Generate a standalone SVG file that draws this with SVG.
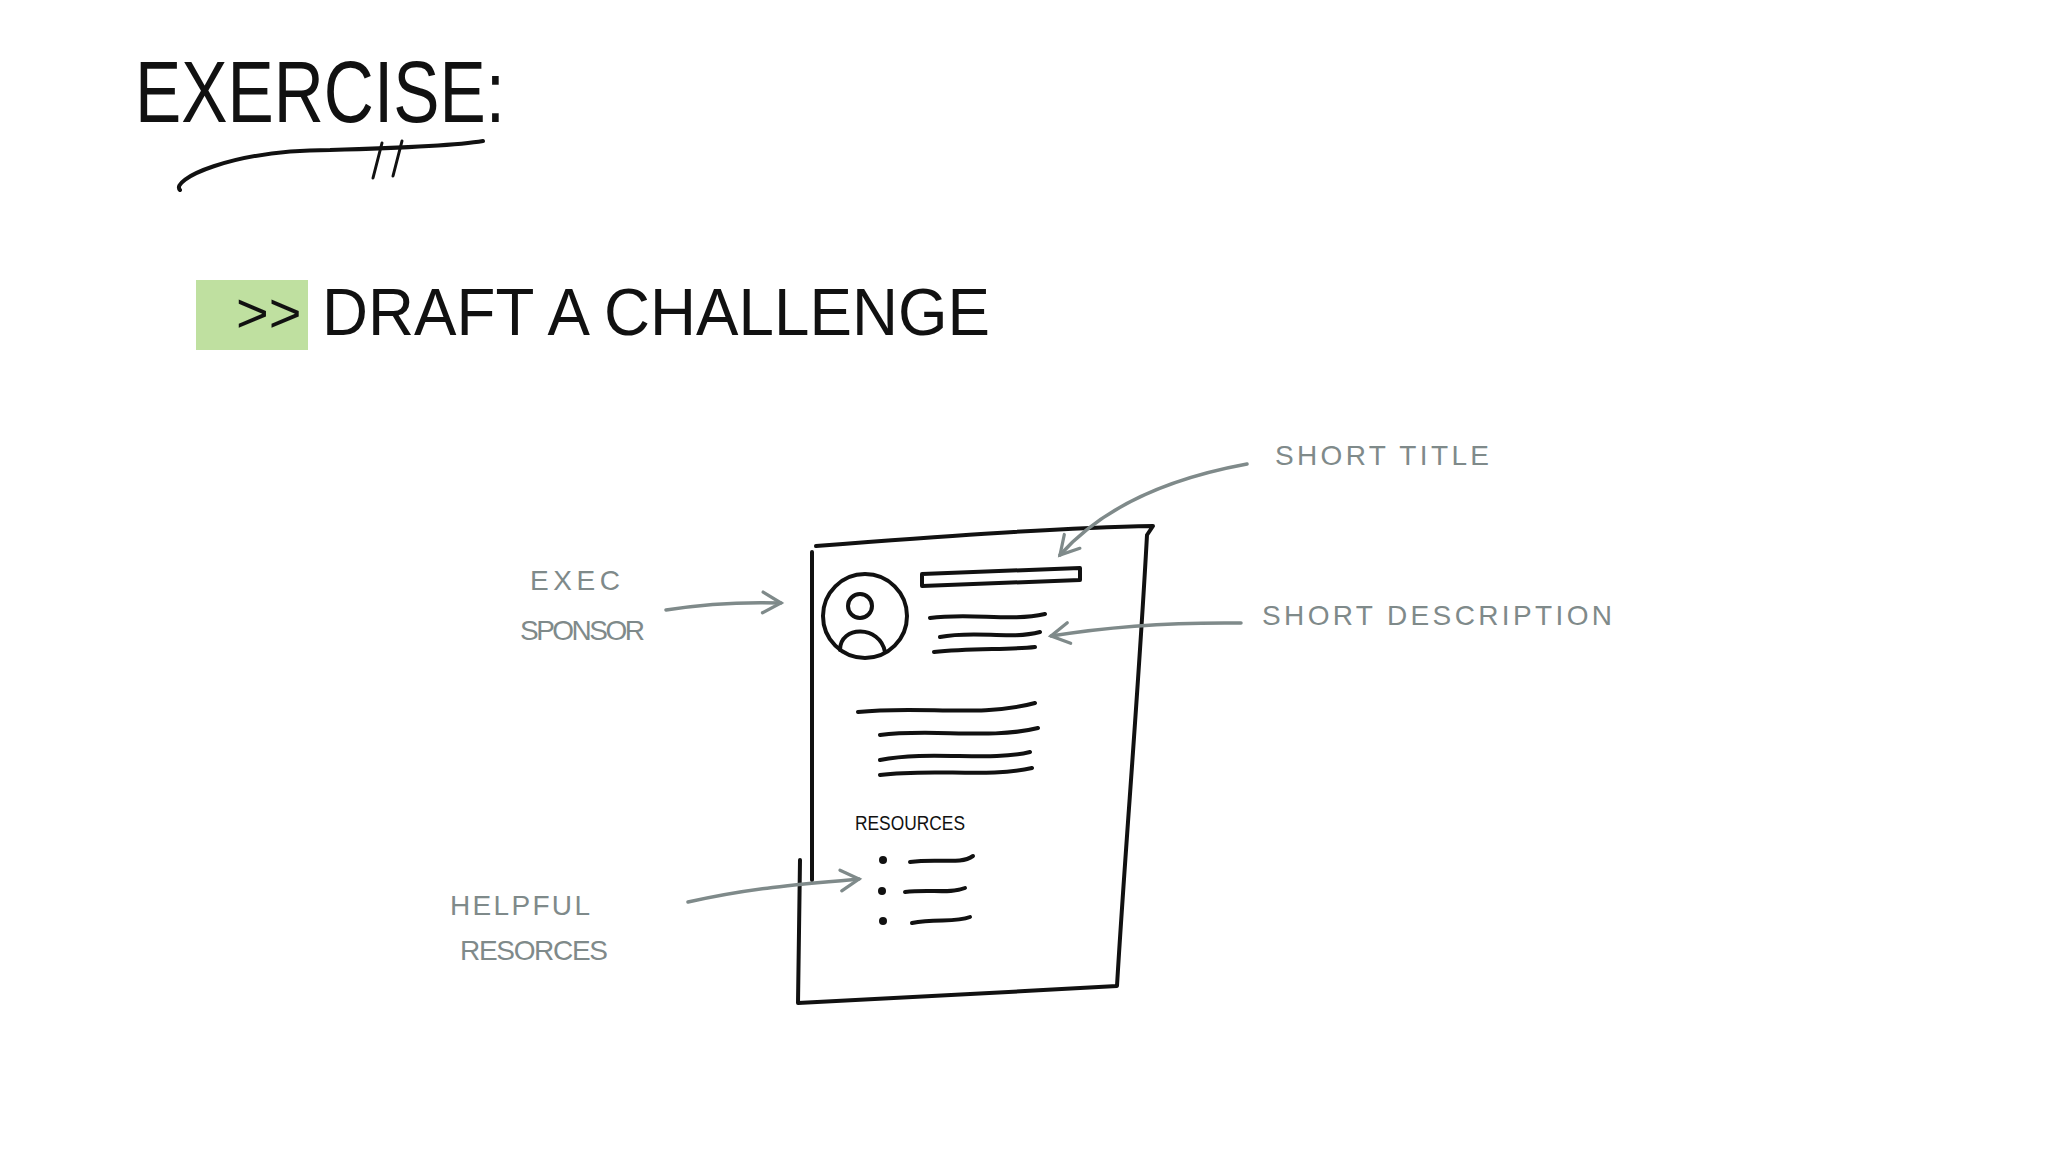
<svg xmlns="http://www.w3.org/2000/svg" width="2048" height="1152" viewBox="0 0 2048 1152">
<style>
.ink{fill:none;stroke:#111;stroke-width:4;stroke-linecap:round;stroke-linejoin:round}
.thin{fill:none;stroke:#111;stroke-width:3;stroke-linecap:round}
.gray{fill:none;stroke:#7f8a8a;stroke-width:3.5;stroke-linecap:round;stroke-linejoin:round}
.h{font-family:"Liberation Sans",sans-serif;fill:#111}
.lbl{font-family:"Liberation Sans",sans-serif;fill:#7f8a8a;font-size:28px}
</style>
<defs>
<marker id="ah" viewBox="0 0 20 20" refX="16" refY="10" markerWidth="26" markerHeight="26" orient="auto" markerUnits="userSpaceOnUse">
<path d="M2,2 L16,10 L2,18" fill="none" stroke="#7f8a8a" stroke-width="2.5" stroke-linecap="round"/>
</marker>
</defs>
<rect width="2048" height="1152" fill="#fff"/>
<g id="title">
<text class="h" x="135" y="122" font-size="88" textLength="370" lengthAdjust="spacingAndGlyphs">EXERCISE:</text>
<path class="ink" d="M180,190 C170,180 230,150 330,150 C400,148 460,145 483,141"/>
<path class="thin" d="M382,143 L373,178 M402,141 L393,176"/>
</g>
<g id="subtitle">
<rect x="196" y="280" width="112" height="70" fill="#bfe0a0"/>
<text class="h" x="236" y="332" font-size="56" fill="#333">&gt;&gt;</text>
<text class="h" x="322" y="335" font-size="66" textLength="668" lengthAdjust="spacingAndGlyphs">DRAFT  A  CHALLENGE</text>
</g>
<g id="document">
<path class="ink" d="M816,546 C920,538 1050,528 1153,526 L1147,535 C1138,700 1125,850 1117,986 C1010,992 900,998 798,1003 L800,860 M812,552 C812,700 812,800 812,880"/>
<circle class="ink" cx="865" cy="616" r="42"/>
<circle class="ink" cx="860" cy="606" r="12"/>
<path class="ink" d="M840,650 C840,625 880,625 885,652"/>
<path class="ink" d="M922,574 L1080,568 L1080,580 L922,586 Z"/>
<path class="ink" d="M930,618 C970,612 1010,622 1045,614 M940,637 C975,630 1010,640 1040,632 M934,652 C970,648 1010,650 1035,647"/>
<path class="ink" d="M858,712 C920,705 980,718 1035,703 M880,735 C930,728 990,740 1038,728 M880,760 C930,750 990,762 1030,752 M880,775 C930,768 990,778 1032,768"/>
<text class="h" x="855" y="830" font-size="20" textLength="110" lengthAdjust="spacingAndGlyphs">RESOURCES</text>
<circle cx="883" cy="860" r="4" fill="#111"/><circle cx="882" cy="891" r="4" fill="#111"/><circle cx="883" cy="921" r="4" fill="#111"/>
<path class="ink" d="M910,862 C940,858 960,865 973,856 M905,892 C930,889 950,894 965,888 M912,923 C935,918 955,923 970,917"/>
</g>
<g id="labels">
<text class="lbl" x="1275" y="465" textLength="214" lengthAdjust="spacing">SHORT   TITLE</text>
<text class="lbl" x="530" y="590" textLength="90" lengthAdjust="spacing">EXEC</text>
<text class="lbl" x="520" y="640" textLength="125" lengthAdjust="spacing">SPONSOR</text>
<text class="lbl" x="1262" y="625" textLength="350" lengthAdjust="spacing">SHORT   DESCRIPTION</text>
<text class="lbl" x="450" y="915" textLength="140" lengthAdjust="spacing">HELPFUL</text>
<text class="lbl" x="460" y="960" textLength="148" lengthAdjust="spacing">RESORCES</text>
</g>
<g id="connectors">
<path class="gray" marker-end="url(#ah)" d="M1247,464 C1160,480 1100,510 1060,555"/>
<path class="gray" marker-end="url(#ah)" d="M666,610 C710,603 750,602 781,603"/>
<path class="gray" marker-end="url(#ah)" d="M1241,623 C1160,622 1100,628 1051,636"/>
<path class="gray" marker-end="url(#ah)" d="M688,902 C750,888 800,884 859,879"/>
</g>
</svg>
